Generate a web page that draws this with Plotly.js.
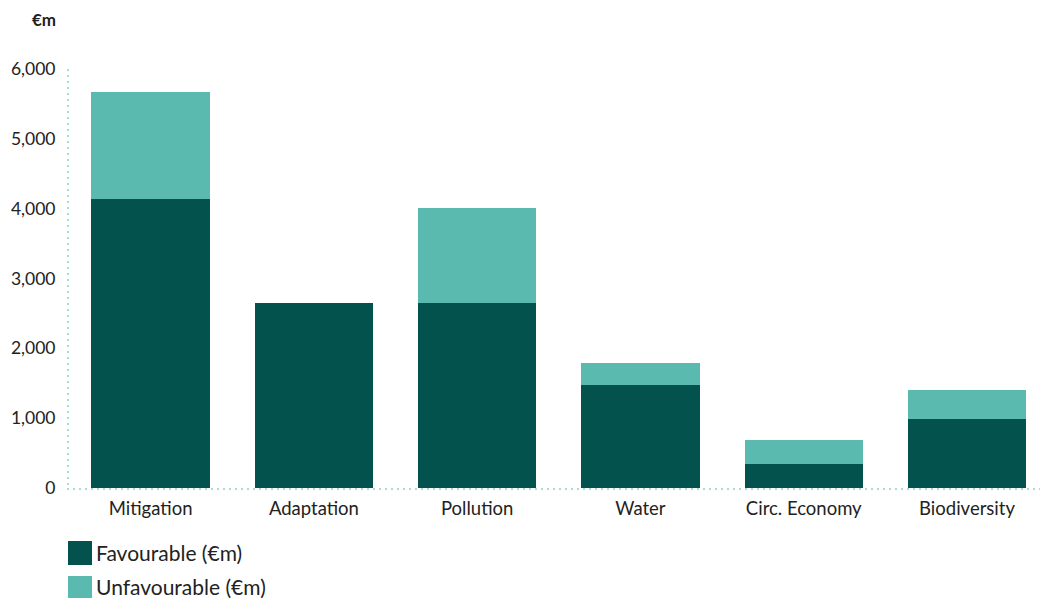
<!DOCTYPE html>
<html>
<head>
<meta charset="utf-8">
<script src="https://cdn.plot.ly/plotly-3.0.1.min.js"></script>
<style>html,body{margin:0;padding:0;background:#fff;}#chart{width:1040px;height:598px;}</style>
</head>
<body>
<div id="chart"></div>
<script>
const categories = ["Mitigation", "Adaptation", "Pollution", "Water", "Circ. Economy", "Biodiversity"];
const favourable = [4140, 2650, 2650, 1475, 345, 990];
const unfavourable = [1530, 0, 1360, 315, 340, 410];
const seriesNames = ["Favourable (€m)", "Unfavourable (€m)"];
const seriesColors = ["#03524E", "#5BBAAF"];
const yTicks = [0, 1000, 2000, 3000, 4000, 5000, 6000];
const unitLabel = "€m";

const font = "Lato, 'Open Sans', sans-serif";
const traces = [favourable, unfavourable].map((vals, i) => ({
  type: "bar",
  x: categories,
  y: vals,
  name: seriesNames[i],
  marker: {color: seriesColors[i], line: {width: 0}},
  width: 0.725,
  hoverinfo: "x+y+name",
  showlegend: false
}));

const shapes = [];
const annotations = [{
  xref: "paper", yref: "paper", x: (58 - 69) / 971, y: (488 - 20) / 419, xanchor: "right", yanchor: "middle",
  text: "<b>" + unitLabel + "</b>", showarrow: false, font: {family: font, size: 17, color: "#222"}
}];
// Legend (bottom-left), built from series names/colors
seriesNames.forEach((n, i) => {
  const top = 541 + i * 35;
  shapes.push({type: "rect", xref: "paper", yref: "paper",
    x0: (68 - 69) / 971, x1: (92 - 69) / 971,
    y0: (488 - top) / 419, y1: (488 - top - 24) / 419,
    fillcolor: seriesColors[i], line: {width: 0}});
  annotations.push({xref: "paper", yref: "paper", x: (95 - 69) / 971, y: (488 - top - 11 + i) / 419,
    xanchor: "left", yanchor: "middle", text: n, showarrow: false, borderpad: 0,
    font: {family: font, size: 21, color: "#222"}});
});

const layout = {
  width: 1040, height: 598,
  margin: {l: 69, r: 0, t: 69, b: 110},
  paper_bgcolor: "#fff", plot_bgcolor: "#fff",
  barmode: "stack",
  font: {family: font, color: "#222"},
  xaxis: {
    type: "category", range: [-0.5, 5.447],
    showgrid: false, zeroline: false,
    showline: true, linecolor: "#A8DDD3", linewidth: 2,
    ticks: "", ticklabelstandoff: 3,
    tickfont: {family: font, size: 18.5, color: "#222"}
  },
  yaxis: {
    range: [0, 6000], tickvals: yTicks, tickformat: ",",
    showgrid: false, zeroline: false,
    showline: true, linecolor: "#A8DDD3", linewidth: 2,
    ticks: "", ticklabelstandoff: 8,
    tickfont: {family: font, size: 17.5, color: "#222"}
  },
  shapes: shapes,
  annotations: annotations
};

Plotly.newPlot("chart", traces, layout, {displayModeBar: false}).then(() => {
  document.querySelectorAll(".xlines-above, .ylines-above, .xlines-below, .ylines-below").forEach(p => {
    p.style.strokeDasharray = "2,4";
  });
});
</script>
</body>
</html>
